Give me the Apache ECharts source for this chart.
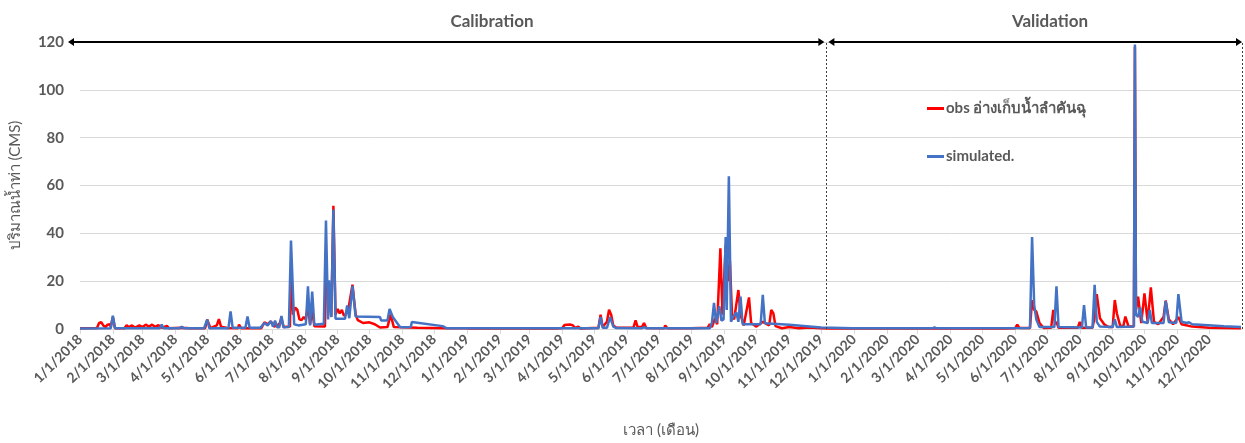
<!DOCTYPE html>
<html>
<head>
<meta charset="utf-8">
<script src="https://cdn.jsdelivr.net/npm/echarts@6/dist/echarts.min.js"></script>
<style>
html,body{margin:0;padding:0;background:#fff;}
#chart{width:1245px;height:443px;}
</style>
</head>
<body>
<div id="chart"></div>
<script>
// ---- data ----
const seriesNames = ['obs อ่างเก็บน้ำลำคันฉุ', 'simulated.'];
const yTicks = [0, 20, 40, 60, 80, 100, 120];
const periodTitles = ['Calibration', 'Validation'];
const periodBounds = ['2018-01-01', '2019-12-06', '2021-01-01'];

const obsData = [
  ['2018-01-01',0.3],['2018-01-17',0.4],['2018-01-19',2.5],['2018-01-21',2.8],['2018-01-23',1.5],['2018-01-25',0.8],
  ['2018-01-27',1.8],['2018-01-29',2.0],['2018-01-30',1.0],['2018-02-01',5.0],['2018-02-03',0.3],['2018-02-12',0.3],
  ['2018-02-14',1.6],['2018-02-16',0.8],['2018-02-19',1.5],['2018-02-22',0.6],['2018-02-26',1.5],['2018-03-01',0.8],
  ['2018-03-04',1.8],['2018-03-07',1.0],['2018-03-10',1.8],['2018-03-13',0.9],['2018-03-16',1.6],['2018-03-19',0.5],
  ['2018-03-24',1.3],['2018-03-26',0.3],['2018-04-06',0.5],['2018-04-15',0.3],['2018-04-29',0.3],['2018-05-01',3.9],
  ['2018-05-04',0.4],['2018-05-10',1.5],['2018-05-12',4.1],['2018-05-14',1.0],['2018-05-20',0.4],['2018-05-30',0.3],
  ['2018-05-31',1.8],['2018-06-02',0.3],['2018-06-21',0.3],['2018-06-22',1.2],['2018-06-24',2.8],['2018-06-27',2.0],
  ['2018-06-30',3.2],['2018-07-03',1.0],['2018-07-08',2.0],['2018-07-10',4.5],['2018-07-12',0.8],['2018-07-18',1.0],
  ['2018-07-19',22.5],['2018-07-21',6],['2018-07-23',9],['2018-07-25',8],['2018-07-27',4],['2018-07-29',3.7],
  ['2018-07-31',5],['2018-08-02',4],['2018-08-04',10],['2018-08-06',2],['2018-08-08',8],['2018-08-10',1.2],
  ['2018-08-20',1.0],['2018-08-21',20],['2018-08-24',15],['2018-08-26',5],['2018-08-28',51.5],['2018-08-30',6],
  ['2018-09-01',8.4],['2018-09-03',6.5],['2018-09-05',8.0],['2018-09-07',5.5],['2018-09-09',6.3],['2018-09-11',8],
  ['2018-09-15',18.5],['2018-09-18',6],['2018-09-20',3.7],['2018-09-25',2.5],['2018-10-01',2.8],['2018-10-06',2.0],
  ['2018-10-11',0.6],['2018-10-18',0.8],['2018-10-21',6],['2018-10-24',0.8],['2018-11-15',0.5],['2018-12-13',0.3],
  ['2019-01-01',0.3],['2019-01-02',0.8],['2019-01-03',0.2],['2019-02-19',0.2],['2019-02-20',0.5],['2019-02-21',0.2],
  ['2019-03-09',0.2],['2019-03-10',0.5],['2019-03-11',0.2],['2019-03-24',0.2],['2019-03-25',0.6],['2019-03-26',0.2],
  ['2019-04-01',0.4],['2019-04-03',1.7],['2019-04-08',1.9],['2019-04-11',1.5],['2019-04-13',0.4],['2019-04-16',1.0],
  ['2019-04-18',0.2],['2019-05-05',0.5],['2019-05-07',6.0],['2019-05-09',0.8],['2019-05-13',3],['2019-05-15',8.1],
  ['2019-05-17',6],['2019-05-19',1.5],['2019-05-22',0.5],['2019-06-07',0.6],['2019-06-09',3.6],['2019-06-11',0.8],
  ['2019-06-15',0.8],['2019-06-17',2.5],['2019-06-19',0.4],['2019-07-06',0.3],['2019-07-07',1.5],['2019-07-09',0.3],
  ['2019-07-28',0.3],['2019-07-29',1.0],['2019-07-31',0.3],['2019-08-16',0.5],['2019-08-18',2.0],['2019-08-20',0.8],
  ['2019-08-23',4.5],['2019-08-25',2],['2019-08-28',33.7],['2019-08-30',6],['2019-09-02',35],['2019-09-04',20],
  ['2019-09-06',28.4],['2019-09-08',6],['2019-09-10',4],['2019-09-14',16.3],['2019-09-16',6],['2019-09-19',1.5],
  ['2019-09-24',13.2],['2019-09-26',2.5],['2019-10-01',1.0],['2019-10-07',3],['2019-10-13',1.5],['2019-10-15',8],
  ['2019-10-17',6.5],['2019-10-19',1.2],['2019-10-25',0.3],['2019-11-01',0.8],['2019-11-10',0.3],['2019-11-20',0.6],
  ['2019-12-01',0.3],['2019-12-10',0.2],
  ['2020-01-26',0.2],['2020-01-27',0.8],['2020-01-28',0.2],['2020-03-24',0.2],['2020-03-25',0.5],['2020-03-26',0.2],
  ['2020-04-14',0.2],['2020-04-15',0.5],['2020-04-16',0.2],['2020-04-30',0.2],['2020-05-01',0.8],['2020-05-02',0.2],
  ['2020-05-19',0.2],['2020-05-20',1.0],['2020-05-21',0.2],['2020-06-01',0.3],['2020-06-03',1.8],['2020-06-05',0.4],
  ['2020-06-15',0.4],['2020-06-17',12],['2020-06-19',8],['2020-06-21',7.3],['2020-06-24',2.5],['2020-06-28',0.4],
  ['2020-07-05',0.5],['2020-07-07',8],['2020-07-09',2],['2020-07-10',3],['2020-07-12',0.5],['2020-07-30',0.5],
  ['2020-08-01',3],['2020-08-03',0.5],['2020-08-13',0.5],['2020-08-15',5],['2020-08-17',14.6],['2020-08-20',4.5],
  ['2020-08-24',2],['2020-08-28',0.8],['2020-09-01',0.8],['2020-09-03',12.1],['2020-09-05',6.5],['2020-09-08',1.5],
  ['2020-09-11',1.0],['2020-09-13',5.2],['2020-09-16',1.0],['2020-09-21',1],['2020-09-22',118],['2020-09-23',8],
  ['2020-09-25',13.5],['2020-09-28',2.5],['2020-10-01',14.9],['2020-10-04',3],['2020-10-07',17.4],['2020-10-10',3],
  ['2020-10-14',2],['2020-10-19',5],['2020-10-21',11.9],['2020-10-24',4],['2020-10-28',2],['2020-11-02',5],
  ['2020-11-05',2],['2020-11-15',1],['2020-12-01',0.5],['2020-12-31',0.3]
];

const simData = [
  ['2018-01-01',0.2],['2018-01-30',0.3],['2018-02-01',5.6],['2018-02-03',0.3],['2018-03-17',0.3],['2018-03-19',1.8],
  ['2018-03-21',0.3],['2018-04-05',0.3],['2018-04-07',1.0],['2018-04-09',0.3],['2018-04-28',0.3],['2018-05-01',3.9],
  ['2018-05-03',0.3],['2018-05-21',0.3],['2018-05-23',7.4],['2018-05-25',0.5],['2018-06-06',0.5],['2018-06-08',5.2],
  ['2018-06-10',0.5],['2018-06-20',0.5],['2018-06-24',2.5],['2018-06-27',1.5],['2018-06-30',3.3],['2018-07-02',1.0],
  ['2018-07-04',3.5],['2018-07-06',0.7],['2018-07-08',0.7],['2018-07-10',5.4],['2018-07-12',0.7],['2018-07-17',0.8],
  ['2018-07-19',37],['2018-07-22',2.0],['2018-07-26',1.5],['2018-08-02',2],['2018-08-04',17.8],['2018-08-06',1.5],
  ['2018-08-08',15.6],['2018-08-10',1.8],['2018-08-19',2.2],['2018-08-21',45.4],['2018-08-23',4],['2018-08-24',20.4],
  ['2018-08-26',5],['2018-08-28',50],['2018-08-30',4.3],['2018-09-08',4.3],['2018-09-10',9.8],['2018-09-12',4.5],
  ['2018-09-15',18],['2018-09-18',5.2],['2018-10-11',5.0],['2018-10-12',3.6],['2018-10-18',3.6],['2018-10-20',8.4],
  ['2018-10-23',5],['2018-10-30',0.7],['2018-11-09',0.8],['2018-11-10',2.9],['2018-12-09',1.2],['2018-12-13',0.3],
  ['2019-01-01',0.3],['2019-05-05',0.3],['2019-05-07',5],['2019-05-09',0.5],['2019-05-13',0.5],['2019-05-16',5],
  ['2019-05-19',1],['2019-05-22',0.4],['2019-06-15',0.3],['2019-06-17',0.8],['2019-06-19',0.3],['2019-08-18',0.3],
  ['2019-08-20',2.5],['2019-08-22',10.9],['2019-08-24',2.5],['2019-08-27',9.5],['2019-08-29',3.5],['2019-08-31',4],
  ['2019-09-02',38.5],['2019-09-03',8],['2019-09-05',63.9],['2019-09-07',3],['2019-09-09',5],['2019-09-12',7],
  ['2019-09-14',3],['2019-09-16',13.5],['2019-09-18',2],['2019-09-25',2],['2019-10-05',2],['2019-10-07',14.3],
  ['2019-10-09',2.4],['2019-11-01',1.8],['2019-12-01',0.6],['2019-12-31',0.3],
  ['2020-03-15',0.3],['2020-03-17',0.7],['2020-03-19',0.3],['2020-06-15',0.4],['2020-06-17',38.5],['2020-06-19',10],
  ['2020-06-21',4],['2020-06-24',0.8],['2020-07-08',0.8],['2020-07-10',17.8],['2020-07-12',0.8],['2020-08-03',0.6],
  ['2020-08-05',10],['2020-08-07',0.6],['2020-08-13',0.6],['2020-08-15',18.5],['2020-08-17',3],['2020-08-20',1.0],
  ['2020-09-01',0.8],['2020-09-03',4],['2020-09-05',0.8],['2020-09-21',1],['2020-09-22',119],['2020-09-23',6],
  ['2020-09-25',5],['2020-09-27',9],['2020-09-29',3],['2020-10-04',2.5],['2020-10-06',8],['2020-10-08',2.5],
  ['2020-10-19',2.5],['2020-10-21',11.7],['2020-10-24',2.8],['2020-10-31',2.5],['2020-11-02',14.6],['2020-11-05',3],
  ['2020-11-10',2.5],['2020-11-12',2.8],['2020-11-15',2.0],['2020-12-15',1.2],['2020-12-31',0.8]
];

// ---- chart ----
const FONT = 'Lato, "Noto Sans", "DejaVu Sans", sans-serif';
const GRAY = '#595959';
const chart = echarts.init(document.getElementById('chart'), null, {renderer: 'canvas'});
const DAY = 86400000;

const option = {
  animation: false,
  backgroundColor: '#ffffff',
  grid: {left: 80, right: 3, top: 42, bottom: 111, containLabel: false},
  legend: {
    orient: 'vertical', left: 922, top: 96, itemGap: 33,
    itemWidth: 17, itemHeight: 3, icon: 'rect',
    textStyle: {fontFamily: FONT, fontSize: 15, fontWeight: 'bold', color: GRAY, padding: [0, 0, 0, -3]},
    data: seriesNames
  },
  xAxis: {
    type: 'time',
    min: periodBounds[0], max: periodBounds[2],
    minInterval: 31 * DAY, maxInterval: 31 * DAY,
    name: 'เวลา (เดือน)', nameLocation: 'middle', nameGap: 94,
    nameTextStyle: {fontFamily: FONT, fontSize: 15, color: GRAY},
    axisLine: {show: true, lineStyle: {color: '#d9d9d9', width: 1}},
    axisTick: {show: true, length: 5, lineStyle: {color: '#d9d9d9'}},
    splitLine: {show: false},
    axisLabel: {
      rotate: 45, margin: 8, fontFamily: FONT, fontSize: 14, fontWeight: 'bold', color: GRAY,
      hideOverlap: false,
      formatter: function (v) {
        const d = new Date(v);
        if (d.getFullYear() > 2020) return '';
        return (d.getMonth() + 1) + '/' + d.getDate() + '/' + d.getFullYear();
      }
    }
  },
  yAxis: {
    type: 'value', min: yTicks[0], max: yTicks[yTicks.length - 1], interval: 20,
    name: 'ปริมาณน้ำท่า (CMS)', nameLocation: 'middle', nameGap: 57,
    nameTextStyle: {fontFamily: FONT, fontSize: 15, color: GRAY},
    axisLine: {show: false}, axisTick: {show: false},
    splitLine: {lineStyle: {color: '#d9d9d9', width: 1}},
    axisLabel: {margin: 16, fontFamily: FONT, fontSize: 15, fontWeight: 'bold', color: GRAY}
  },
  series: [
    {
      name: seriesNames[0], type: 'line', data: obsData, showSymbol: false, z: 2,
      color: '#ff0000', lineStyle: {color: '#ff0000', width: 2.5}
    },
    {
      name: seriesNames[1], type: 'line', data: simData, showSymbol: false, z: 3,
      color: '#4472c4', lineStyle: {color: '#4472c4', width: 2.5},
      markLine: {
        silent: true, symbol: 'none', label: {show: false},
        lineStyle: {color: '#404040', type: [2, 2], width: 1},
        data: [{xAxis: periodBounds[1]}, {xAxis: periodBounds[2]}]
      }
    }
  ]
};
chart.setOption(option);

// period arrows + titles, positioned through the axis scales
function px(date, val) { return chart.convertToPixel({gridIndex: 0}, [date, val]); }
const yTop = px(periodBounds[0], 120)[1];
const x0 = px(periodBounds[0], 120)[0] - 12;
const xm = px(periodBounds[1], 120)[0];
const x1 = px(periodBounds[2], 120)[0];
function arrow(xa, xb, y) {
  const h = 4, w = 6;
  return [
    {type: 'line', shape: {x1: xa + 2, y1: y, x2: xb - 2, y2: y}, style: {stroke: '#000', lineWidth: 2}, z: 100},
    {type: 'polygon', shape: {points: [[xa, y], [xa + w, y - h], [xa + w, y + h]]}, style: {fill: '#000'}, z: 100},
    {type: 'polygon', shape: {points: [[xb, y], [xb - w, y - h], [xb - w, y + h]]}, style: {fill: '#000'}, z: 100}
  ];
}
const titleStyle = {fontFamily: FONT, fontSize: 17, fontWeight: 'bold', fill: GRAY, align: 'center', verticalAlign: 'middle'};
chart.setOption({
  graphic: [].concat(
    arrow(x0, xm - 2, yTop),
    arrow(xm + 2, x1, yTop),
    [
      {type: 'text', x: 492, y: 22, style: Object.assign({text: periodTitles[0]}, titleStyle), z: 100},
      {type: 'text', x: 1050, y: 22, style: Object.assign({text: periodTitles[1]}, titleStyle), z: 100}
    ]
  )
});
</script>
</body>
</html>
